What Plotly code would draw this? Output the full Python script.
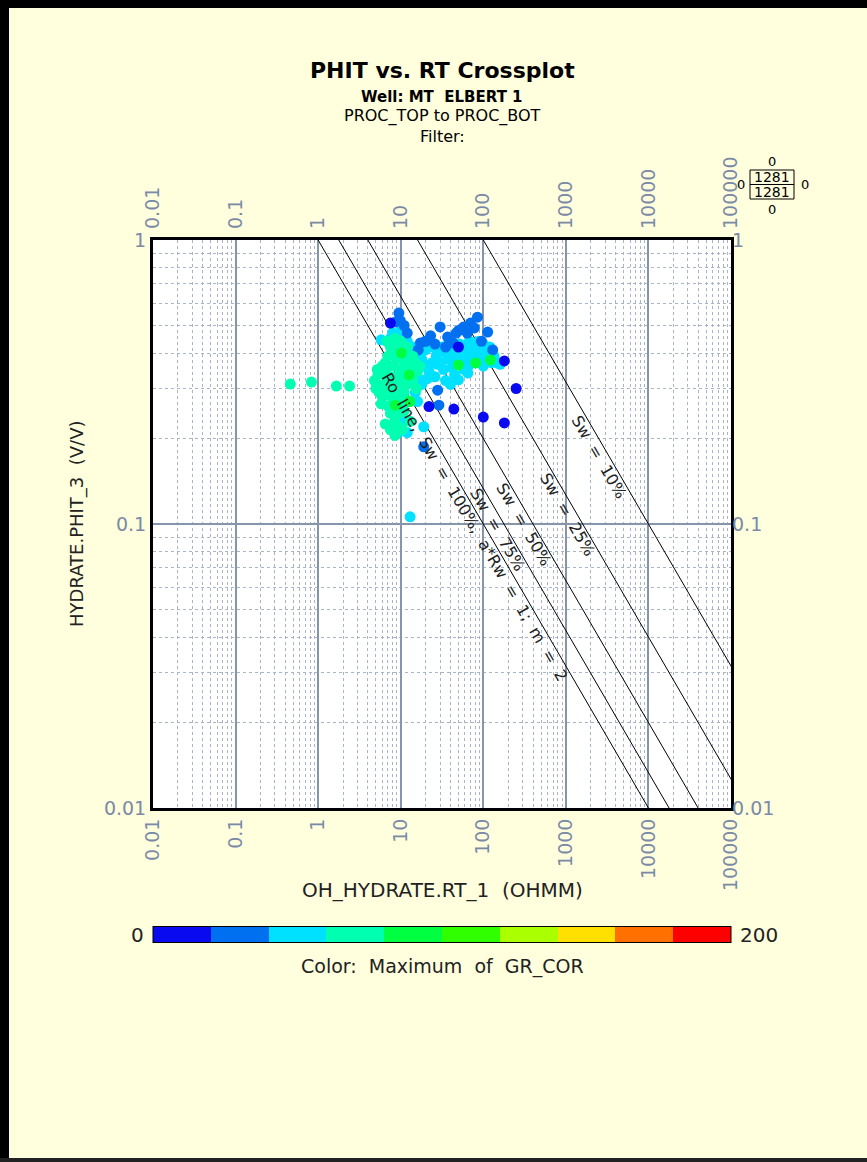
import numpy as np
import plotly.graph_objects as go

# ---------------- data ----------------
x_tickvals = [0.01, 0.1, 1, 10, 100, 1000, 10000, 100000]
x_ticktext = ["0.01", "0.1", "1", "10", "100", "1000", "10000", "100000"]
y_tickvals = [0.01, 0.1, 1]
y_ticktext = ["0.01", "0.1", "1"]

# Archie lines: Rt = a*Rw / (phi^m * Sw^n)
a_rw, m_exp, n_exp = 1.0, 2.0, 2.0
sw_values = [1.0, 0.75, 0.5, 0.25, 0.10]
sw_labels = ["Ro  line,  Sw  =  100%,  a*Rw  =  1;  m  =  2", "Sw  =  75%", "Sw  =  50%", "Sw  =  25%", "Sw  =  10%"]
sw_label_phi = [0.0975, 0.0953, 0.0992, 0.1077, 0.172]

# GR ~ 40-60 (cyan)
rt_cyan = [5.8, 10, 12, 14, 16, 18, 20, 22, 24, 27,
           30, 33, 37, 41, 45, 50, 55, 60, 66, 72,
           78, 85, 92, 100, 110, 125, 145, 160, 20, 24,
           28, 32, 38, 45, 52, 60, 68, 76, 88, 100,
           16, 18, 21, 15, 26, 45, 58, 35, 40, 50,
           65, 13, 15, 11.5, 9.3, 12, 19, 16, 13, 11,
           8, 7.5, 35, 48, 62, 70, 90, 105, 120, 135,
           42, 28]
phi_cyan = [0.445, 0.48, 0.44, 0.42, 0.40, 0.38, 0.36, 0.345, 0.37, 0.39,
            0.37, 0.35, 0.38, 0.40, 0.37, 0.39, 0.41, 0.38, 0.36, 0.40,
            0.37, 0.42, 0.39, 0.36, 0.38, 0.37, 0.37, 0.365, 0.41, 0.42,
            0.405, 0.42, 0.43, 0.42, 0.43, 0.42, 0.44, 0.43, 0.44, 0.43,
            0.33, 0.31, 0.325, 0.29, 0.33, 0.335, 0.35, 0.32, 0.31, 0.322,
            0.34, 0.36, 0.375, 0.39, 0.21, 0.21, 0.22, 0.27, 0.106, 0.23,
            0.47, 0.45, 0.40, 0.41, 0.395, 0.38, 0.37, 0.40, 0.42, 0.39,
            0.355, 0.365]
gr_cyan = 50

# GR ~ 20-40 (blue)
rt_blue = [9.5, 8.6, 17.3, 16.3, 30, 37, 43, 58, 64, 85,
           113, 130, 28, 29, 19, 23, 70, 50, 26, 11,
           9.9, 12, 35, 47, 78, 95, 20]
phi_blue = [0.553, 0.514, 0.434, 0.41, 0.494, 0.455, 0.434, 0.494, 0.47, 0.535,
            0.474, 0.41, 0.296, 0.262, 0.187, 0.46, 0.51, 0.48, 0.43, 0.50,
            0.52, 0.47, 0.42, 0.47, 0.49, 0.44, 0.44]
gr_blue = 30

# GR ~ 60-80 (sea green)
rt_sea = [0.46, 0.83, 1.66, 2.4, 4.8, 5.0, 5.3, 5.5, 5.2, 6.0,
          6.2, 6.5, 6.5, 6.0, 7.0, 7.0, 7.2, 7.0, 7.5, 7.5,
          7.8, 8.0, 8.0, 8.2, 8.5, 8.5, 8.8, 9.0, 9.0, 9.2,
          9.5, 9.5, 9.8, 10, 10, 10.5, 10.5, 11, 11, 11,
          11.5, 12, 12, 12.5, 13, 13, 14, 14, 15, 15.5,
          6.8, 8.5, 10, 5.8, 6.5, 7.5, 8.5, 16, 17]
phi_sea = [0.311, 0.316, 0.306, 0.306, 0.32, 0.30, 0.335, 0.29, 0.35, 0.28,
           0.31, 0.34, 0.37, 0.36, 0.26, 0.30, 0.33, 0.39, 0.42, 0.245,
           0.28, 0.31, 0.36, 0.40, 0.23, 0.33, 0.26, 0.29, 0.38, 0.43,
           0.22, 0.245, 0.31, 0.35, 0.27, 0.40, 0.215, 0.33, 0.29, 0.25,
           0.37, 0.31, 0.42, 0.27, 0.35, 0.23, 0.32, 0.39, 0.37, 0.30,
           0.44, 0.45, 0.44, 0.265, 0.225, 0.215, 0.205, 0.345, 0.36]
gr_sea = 70

# GR ~ 80-100 (green)
rt_green = [10.2, 12.6, 12.9, 8.6, 50, 81, 122]
phi_green = [0.40, 0.335, 0.27, 0.262, 0.363, 0.369, 0.378]
gr_green = 90

# GR ~ 0-20 (dark blue)
rt_dblue = [7.5, 180, 250, 22, 44, 100, 180, 50]
phi_dblue = [0.51, 0.375, 0.30, 0.259, 0.254, 0.238, 0.227, 0.42]
gr_dblue = 10

color_bins = ["#0a0af0", "#0070f0", "#00e0ff", "#00ffb0", "#00ff40",
              "#30ff00", "#aaff00", "#ffe000", "#ff7000", "#ff0000"]
gr_min, gr_max = 0, 200
point_count = "1281"

groups = [(rt_cyan, phi_cyan, gr_cyan), (rt_blue, phi_blue, gr_blue), (rt_sea, phi_sea, gr_sea),
          (rt_green, phi_green, gr_green), (rt_dblue, phi_dblue, gr_dblue)]
rt, phit, gr = [], [], []
for g_rt, g_phi, g_gr in groups:
    rt += g_rt
    phit += g_phi
    gr += [g_gr] * len(g_rt)

# ---------------- layout helpers ----------------
W, H = 867, 1162
L, R, T, B = 153, 731, 240, 808


def px(xp):
    return (xp - L) / (R - L)


def py(yp):
    return (B - yp) / (B - T)


FONT = "DejaVu Sans"
TICKC = "#7a8aa6"
TXT = "#222222"

colorscale = []
nb = len(color_bins)
for i, c in enumerate(color_bins):
    colorscale.append([i / nb, c])
    colorscale.append([(i + 1) / nb, c])

fig = go.Figure()

# Archie lines
phi_ends = np.array([1.0, 0.001])
for sw in sw_values:
    rt_line = a_rw / (phi_ends ** m_exp * sw ** n_exp)
    fig.add_trace(go.Scatter(x=rt_line, y=phi_ends, mode="lines",
                             line=dict(color="black", width=1), showlegend=False, hoverinfo="skip"))

fig.add_trace(go.Scatter(
    x=rt, y=phit, mode="markers", showlegend=False,
    marker=dict(size=11, color=gr, cmin=gr_min, cmax=gr_max, colorscale=colorscale,
                line=dict(width=0),
                colorbar=dict(orientation="h", x=0.5, xanchor="center", len=1.0, lenmode="fraction",
                              y=py(935), yanchor="middle", thickness=16, xpad=0, ypad=0,
                              outlinewidth=1, outlinecolor="black", showticklabels=False, ticks="")),
))

# dummy trace for the mirrored axes
fig.add_trace(go.Scatter(x=[None], y=[None], xaxis="x2", yaxis="y2", showlegend=False, hoverinfo="skip"))

minor_vals = [k * 10.0 ** e for e in range(-2, 5) for k in range(2, 10)]
minor_vals_y = [k * 10.0 ** e for e in range(-2, 0) for k in range(2, 10)]

grid_major = "#8795ab"
grid_minor = "#a9b5c6"
TF = dict(size=19, color=TICKC)

fig.update_layout(
    width=W, height=H,
    margin=dict(l=L, r=W - R, t=T, b=H - B),
    paper_bgcolor="#fffedd", plot_bgcolor="white",
    font=dict(family=FONT, color=TXT),
    xaxis=dict(type="log", range=[-2, 5], tickvals=x_tickvals, ticktext=x_ticktext, tickangle=-90,
               tickfont=TF, showgrid=True, gridcolor=grid_major, gridwidth=2,
               minor=dict(tickvals=minor_vals, showgrid=True, gridcolor=grid_minor, griddash="dot", gridwidth=1, ticks=""),
               showline=True, linecolor="black", linewidth=3, mirror=True, ticks="", zeroline=False),
    yaxis=dict(type="log", range=[-2, 0], tickvals=y_tickvals, ticktext=y_ticktext,
               tickfont=TF, showgrid=True, gridcolor=grid_major, gridwidth=2,
               minor=dict(tickvals=minor_vals_y, showgrid=True, gridcolor=grid_minor, griddash="dot", gridwidth=1, ticks=""),
               showline=True, linecolor="black", linewidth=3, mirror=True, ticks="", zeroline=False),
    xaxis2=dict(type="log", range=[-2, 5], overlaying="x", side="top", tickvals=x_tickvals, ticktext=x_ticktext,
                tickangle=-90, tickfont=TF, showgrid=False, showline=False, ticks="",
                zeroline=False, ticklabelstandoff=10),
    yaxis2=dict(type="log", range=[-2, 0], overlaying="y", side="right", tickvals=y_tickvals, ticktext=y_ticktext,
                tickfont=TF, showgrid=False, showline=False, ticks="", zeroline=False),
)

ann = []
# titles
ann.append(dict(text="<b>PHIT vs. RT Crossplot</b>", x=px(442), y=py(70), font=dict(size=22, color="black")))
ann.append(dict(text="<b>Well: MT  ELBERT 1</b>", x=px(442), y=py(96.5), font=dict(size=15, color="black")))
ann.append(dict(text="PROC_TOP to PROC_BOT", x=px(442), y=py(116.5), font=dict(size=16, color="black")))
ann.append(dict(text="Filter:", x=px(442), y=py(136), font=dict(size=16, color="black")))
# axis titles
ann.append(dict(text="OH_HYDRATE.RT_1  (OHMM)", x=px(442), y=py(890), font=dict(size=20, color=TXT)))
ann.append(dict(text="HYDRATE.PHIT_3  (V/V)", x=px(77), y=py(524), textangle=-90, font=dict(size=18, color=TXT)))
# colorbar labels
ann.append(dict(text="0", x=px(146), y=py(935), xanchor="right", font=dict(size=20, color=TXT)))
ann.append(dict(text="200", x=px(738), y=py(935), xanchor="left", font=dict(size=20, color=TXT)))
ann.append(dict(text="Color:  Maximum  of  GR_COR", x=px(442), y=py(966), font=dict(size=19, color=TXT)))
# count box
ann.append(dict(text=point_count, x=px(772), y=py(177.5), font=dict(size=14, color="black")))
ann.append(dict(text=point_count, x=px(772), y=py(192), font=dict(size=14, color="black")))
for (tx, ty) in [(772, 161), (772, 210), (741, 185), (805, 185)]:
    ann.append(dict(text="0", x=px(tx), y=py(ty), font=dict(size=13, color="black")))
for a in ann:
    a.update(xref="paper", yref="paper", showarrow=False, xanchor=a.get("xanchor", "center"), yanchor="middle")

# line labels, rotated parallel to the lines (pixel slope of log-log line)
px_per_dec_x = (R - L) / 7.0
px_per_dec_y = (B - T) / 2.0
ang = float(np.degrees(np.arctan((px_per_dec_y / m_exp) / px_per_dec_x)))
for sw, lab, ph in zip(sw_values, sw_labels, sw_label_phi):
    rtc = a_rw / (ph ** m_exp * sw ** n_exp)
    ann.append(dict(text=lab, x=np.log10(rtc), y=np.log10(ph), xref="x", yref="y", showarrow=False,
                    textangle=ang, xshift=-10, font=dict(size=16, color=TXT)))

fig.update_layout(annotations=ann)

shapes = [
    dict(type="rect", xref="paper", yref="paper", x0=px(750), x1=px(794), y0=py(170), y1=py(199),
         line=dict(color="black", width=1), fillcolor="rgba(0,0,0,0)"),
    dict(type="line", xref="paper", yref="paper", x0=px(750), x1=px(794), y0=py(184.5), y1=py(184.5),
         line=dict(color="black", width=1)),
    dict(type="rect", xref="paper", yref="paper", x0=px(0), x1=px(9), y0=py(H), y1=py(0),
         line=dict(width=0), fillcolor="black"),
    dict(type="rect", xref="paper", yref="paper", x0=px(0), x1=px(W), y0=py(8), y1=py(0),
         line=dict(width=0), fillcolor="black"),
    dict(type="rect", xref="paper", yref="paper", x0=px(0), x1=px(W), y0=py(H), y1=py(1158),
         line=dict(width=0), fillcolor="#222222"),
]
fig.update_layout(shapes=shapes)

fig.write_html("out.html")
